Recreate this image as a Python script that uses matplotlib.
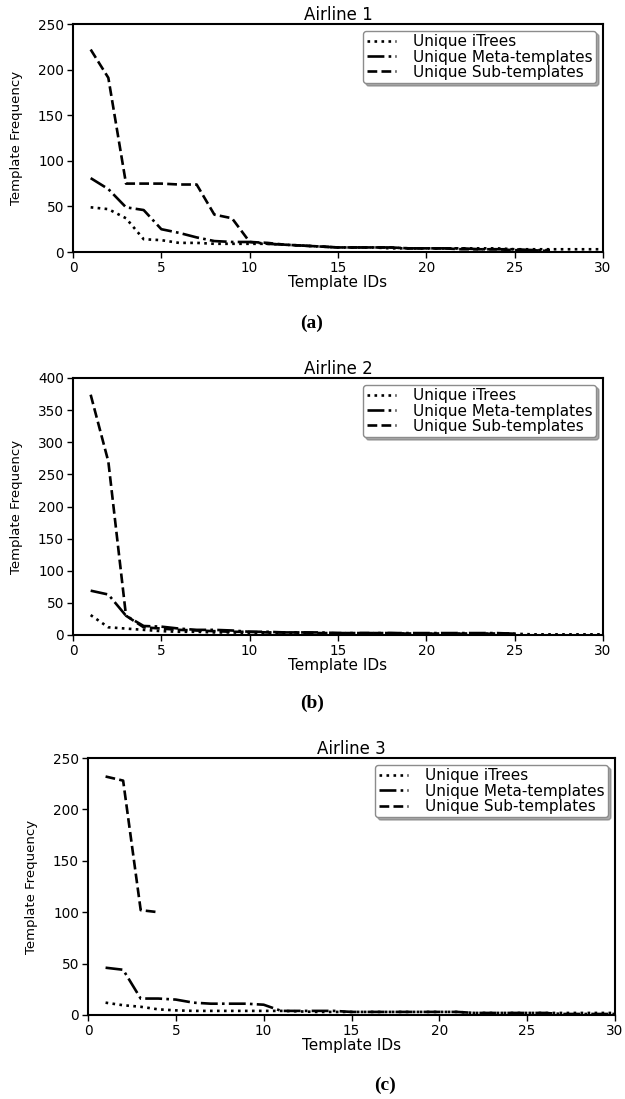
import matplotlib
matplotlib.use("Agg")
import matplotlib.pyplot as plt

# ---------------- data ----------------
titles = ["Airline 1", "Airline 2", "Airline 3"]
panel_tags = ["(a)", "(b)", "(c)"]
series_labels = ["Unique iTrees", "Unique Meta-templates", "Unique Sub-templates"]

itrees1 = [49, 47, 37, 14, 13, 10, 10, 9, 9, 9, 9, 8, 7, 6, 5, 5, 5, 4, 4, 4,
           4, 4, 4, 4, 3, 3, 3, 3, 3, 3]
meta1 = [81, 69, 49, 46, 25, 21, 16, 12, 11, 11, 9, 8, 7, 6, 5, 5, 5, 5, 4, 4,
         4, 4, 3, 3, 3, 2, 2]
sub1 = [222, 191, 75, 75, 75, 74, 74, 41, 37, 11, 10, 8, 7, 6, 5, 5, 5, 5, 4, 4,
        4, 3, 3, 3, 2, 2, 1]

itrees2 = [31, 12, 10, 8, 6, 5, 5, 4, 4, 3, 3, 3, 3, 2, 2, 2, 2, 2, 2, 2,
           2, 2, 2, 2, 2, 1, 1, 1, 1, 1]
meta2 = [69, 63, 30, 14, 13, 10, 8, 8, 7, 5, 5, 4, 4, 4, 3, 3, 3, 3, 3, 3,
         3, 3, 3, 3, 2]
sub2 = [374, 270, 30, 12, 10, 8, 7, 6, 5, 5, 4, 4, 4, 3, 3, 3, 3, 3, 2, 2,
        2, 2, 2, 2, 2]

itrees3 = [12, 9.5, 8, 5.5, 4.5, 4, 4, 4, 4, 4, 4, 3.5, 3, 3, 3, 3, 3, 3, 3, 3,
           3, 2, 2, 2, 2, 2, 2, 2, 2, 2]
meta3 = [46, 44, 16, 16, 15, 12, 11, 11, 11, 10, 4, 4, 4, 4, 3, 3, 3, 3, 3, 3,
         3, 2, 2, 2, 2, 2, 1, 1, 1, 1]
sub3 = [232, 228, 102, 100]

panels = [(itrees1, meta1, sub1), (itrees2, meta2, sub2), (itrees3, meta3, sub3)]
ylims = [250, 400, 250]
yticks = [[0, 50, 100, 150, 200, 250],
          [0, 50, 100, 150, 200, 250, 300, 350, 400],
          [0, 50, 100, 150, 200, 250]]
xticks = [0, 5, 10, 15, 20, 25, 30]

# ---------------- layout ----------------
W, H = 625, 1099
fig = plt.figure(figsize=(W / 100, H / 100), dpi=100)
plt.rcParams['font.family'] = ['DejaVu Sans']

# (left, right, top, bottom) in pixels
boxes = [(73, 603, 24, 252), (73, 603, 378, 635), (88, 615, 758, 1015)]
tag_pos = [(312, 323), (312, 703), (385, 1085)]
styles = [":", "-.", "--"]

for i, (l, r, t, b) in enumerate(boxes):
    ax = fig.add_axes([l / W, 1 - b / H, (r - l) / W, (b - t) / H])
    data = panels[i]
    for s, ls, lab in zip(data, styles, series_labels):
        xs = list(range(1, len(s) + 1))
        ax.plot(xs, s, linestyle=ls, color="black", linewidth=1.9, label=lab)
    ax.set_xlim(0, 30)
    ax.set_ylim(0, ylims[i])
    ax.set_xticks(xticks)
    ax.set_yticks(yticks[i])
    ax.tick_params(labelsize=9.8, width=1.0, length=4, pad=2.5, colors="black")
    for sp in ax.spines.values():
        sp.set_linewidth(1.5)
    ax.set_title(titles[i], fontsize=12, pad=3)
    ax.set_xlabel("Template IDs", fontsize=11, labelpad=0)
    ax.set_ylabel("Template Frequency", fontsize=9.5, labelpad=11)
    leg = ax.legend(loc="upper right", fontsize=11, handlelength=1.9,
                    handletextpad=1.15, borderpad=0.22, labelspacing=0.02,
                    borderaxespad=0.45,
                    shadow={'color': '0.45', 'alpha': 0.6},
                    fancybox=True, framealpha=1.0, edgecolor="0.55")
    tx, ty = tag_pos[i]
    fig.text(tx / W, 1 - ty / H, panel_tags[i], fontsize=14, fontweight="bold",
             family="Liberation Serif", ha="center", va="center")

fig.savefig("out.png", dpi=100)
